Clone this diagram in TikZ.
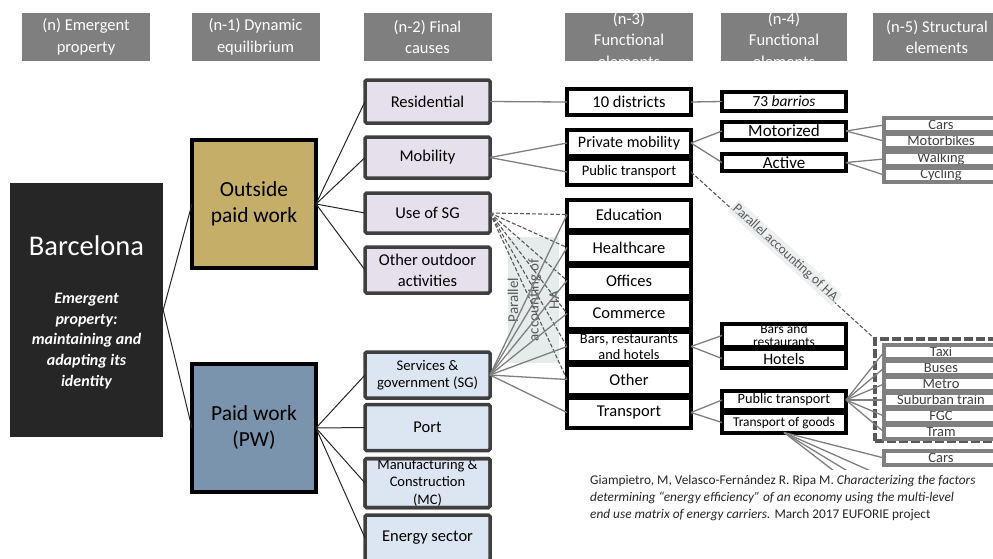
\documentclass[tikz,border=0pt]{standalone}
\usepackage{fontspec}
\setmainfont{Carlito}
\definecolor{hdrgray}{HTML}{7F7F7F}
\definecolor{barcblack}{HTML}{262626}
\definecolor{opwgold}{HTML}{C4AE68}
\definecolor{pwblue}{HTML}{7A94AE}
\definecolor{lavender}{HTML}{E6E0EC}
\definecolor{paleblue}{HTML}{DCE6F2}
\definecolor{boxedge}{HTML}{3F3F3F}
\definecolor{linkgray}{HTML}{7F7F7F}
\definecolor{hagray}{HTML}{595959}
\definecolor{notegray}{HTML}{E6EBEC}
\definecolor{vgray}{HTML}{808080}
\definecolor{vtext}{HTML}{404040}

\begin{document}
\begin{tikzpicture}[x=1pt,y=-1pt,
    hdr/.style={fill=hdrgray, minimum width=128, minimum height=48, inner sep=0pt},
    hdrtext/.style={text=white, align=center, font=\fontsize{16.5}{21.5}\selectfont},
    fcause/.style={draw=boxedge, line width=3.5pt, rounded corners=1.5pt, minimum width=125,
        inner sep=1pt, outer sep=0pt, align=center},
    upper/.style={fcause, fill=lavender, font=\fontsize{16.5}{21}\selectfont},
    lower/.style={fcause, fill=paleblue, minimum height=46},
    fel/.style={draw=black, fill=white, line width=4pt, minimum width=124, inner sep=0pt,
        outer sep=0pt, align=center},
    vbox/.style={draw=vgray, fill=white, line width=4pt, minimum width=114, minimum height=14,
        inner sep=0pt, outer sep=0pt, text=vtext, font=\fontsize{14.5}{15}\selectfont},
    tree/.style={draw=barcblack, line width=1pt},
    link/.style={draw=linkgray, line width=1.3pt},
    ha/.style={draw=hagray, line width=1.1pt, dash pattern=on 4pt off 2pt},
    hnote/.style={fill=notegray, text=hagray, font=\fontsize{13.5}{15}\selectfont, inner sep=2pt}]
    \useasboundingbox (0,0) rectangle (993,558);

    \foreach \n/\xc/\lab in {h0/86/{(n) Emergent\\property}, h1/255.5/{(n-1) Dynamic\\equilibrium},
        h2/427.5/{(n-2) Final\\causes}, h5/937/{(n-5) Structural\\elements}}
        \node[hdr, hdrtext] (\n) at (\xc,37) {\lab};
    \node[hdr] (h3) at (629,37) {};
    \node[hdr, minimum width=126] (h4) at (784,37) {};
    \begin{scope}
        \clip (h3.south west) rectangle (h3.north east) (h4.south west) rectangle (h4.north east);
        \node[hdrtext] (h3t) at (629,40) {(n-3)\\Functional\\elements};
        \node[hdrtext] (h4t) at (784,40) {(n-4)\\Functional\\elements};
    \end{scope}

    \node[fill=barcblack, minimum width=153, minimum height=254] (barc) at (86.5,310) {};
    \node[text=white, font=\fontsize{28.5}{30}\selectfont] (barcname) at (86.5,246) {Barcelona};
    \node[text=white, align=center, font=\bfseries\itshape\fontsize{16}{20.75}\selectfont]
        (barcnote) at (86.5,341) {Emergent\\property:\\maintaining and\\adapting its\\identity};

    \node[draw=black, line width=4pt, fill=opwgold, minimum width=124, minimum height=128,
        align=center, outer sep=0pt, font=\fontsize{21.5}{26}\selectfont] (opw) at (254,204) {Outside\\paid work};
    \node[draw=black, line width=4pt, fill=pwblue, minimum width=124, minimum height=128,
        align=center, outer sep=0pt, font=\fontsize{21.5}{26}\selectfont] (pw) at (254,428) {Paid work\\(PW)};

    \foreach \n/\yc/\h/\lab in {res/101.5/43/Residential, mob/157.5/41/Mobility, usg/213/40/Use of SG,
        ooa/270/46/{Other outdoor\\activities}}
        \node[upper, minimum height=\h] (\n) at (427.5,\yc) {\lab};
    \node[lower, font=\fontsize{14.7}{17}\selectfont] (sg) at (427.5,375) {Services \&\\government (SG)};
    \node[lower, font=\fontsize{16.5}{18}\selectfont] (port) at (427.5,427.5) {Port};
    \node[lower, font=\fontsize{14.5}{17.5}\selectfont] (mc) at (427.5,483) {Manufacturing \&\\Construction\\(MC)};
    \draw[draw=boxedge, line width=3.5pt, rounded corners=1.5pt] (mc.north west) rectangle (mc.south east);
    \node[lower, font=\fontsize{16.5}{18}\selectfont] (ener) at (427.5,538) {Energy sector};

    \node[fill=notegray, text=hagray, rotate=90, align=center, minimum width=126,
        minimum height=49, inner sep=0pt, font=\fontsize{15}{20.5}\selectfont]
        (havert) at (533.5,300) {Parallel\\accounting of\\HA};

    \node[fel, minimum height=26, font=\fontsize{16.5}{18}\selectfont] (dist) at (629,102) {10 districts};
    \node[fel, minimum height=26, font=\fontsize{16}{17}\selectfont] (priv) at (629,143) {Private mobility};
    \node[fel, minimum height=26, font=\fontsize{14.6}{16}\selectfont] (pubt) at (629,172) {Public transport};
    \foreach \n/\fs/\lab [count=\i] in {edu/16.5/Education, hea/16.5/Healthcare, off/16.5/Offices,
        com/16.5/Commerce, bar/14.4/{Bars, restaurants\\and hotels}, oth/16.5/Other, tra/16.5/Transport}
        \node[fel, minimum height=30, font=\fontsize{\fs}{16}\selectfont] (\n) at (629,181.5+33*\i) {\lab};
    \draw[line width=4pt] (bar.north west) rectangle (bar.south east);

    \node[fel, minimum height=19, font=\fontsize{15.4}{16}\selectfont] (barr) at (784,101.5) {73 \textit{barrios}};
    \node[fel, minimum height=18, font=\fontsize{17}{17}\selectfont] (motor) at (784,131) {Motorized};
    \node[fel, minimum height=17, font=\fontsize{17}{17}\selectfont] (act) at (784,162.5) {Active};
    \node[fel, minimum height=20, font=\fontsize{13.5}{13.5}\selectfont] (brs) at (784,335.5) {Bars and\\restaurants};
    \draw[line width=4pt] (brs.north west) rectangle (brs.south east);
    \node[fel, minimum height=19, font=\fontsize{16}{17}\selectfont] (hot) at (784,358.5) {Hotels};
    \node[fel, minimum height=19, font=\fontsize{14.3}{16}\selectfont] (ptn) at (784,400) {Public transport};
    \node[fel, minimum height=20, font=\fontsize{13.4}{14}\selectfont] (tog) at (784,422.5) {Transport of goods};

    \node[draw=hagray, line width=4pt, dash pattern=on 9pt off 3pt, minimum width=130, minimum height=102,
        outer sep=0pt] (ptgroup) at (940,390) {};
    \foreach \n/\yc/\lab in {cars/125/Cars, mbk/141/Motorbikes, walk/159/Walking, cyc/175/Cycling,
        taxi/352/Taxi, bus/368/Buses, metro/384/Metro, sub/400/Suburban train, fgc/416/FGC,
        tram/432/Tram, gcars/458/Cars} {
        \node[vbox] (\n) at (941,\yc) {\lab};
        \draw[draw=vgray, line width=4pt] (\n.north west) rectangle (\n.south east);
    }
    \coordinate (gd2) at (882,476);
    \coordinate (gd3) at (882,492);
    \coordinate (gd4) at (882,508);

    \draw[tree] (barc.east) -- (opw.west);
    \draw[tree] (barc.east) -- (pw.west);
    \foreach \n in {res,mob,usg,ooa} \draw[tree] (opw.east) -- (\n.west);
    \foreach \n in {sg,port,mc,ener} \draw[tree] (pw.east) -- (\n.west);
    \draw[link] (res.east) -- (dist.west);
    \draw[link] (dist.east) -- (barr.west);
    \foreach \n in {priv,pubt} \draw[link] (mob.east) -- (\n.west);
    \foreach \n in {motor,act} \draw[link] (priv.east) -- (\n.west);
    \foreach \n in {cars,mbk} \draw[link] (motor.east) -- (\n.west);
    \foreach \n in {walk,cyc} \draw[link] (act.east) -- (\n.west);
    \foreach \n in {edu,hea,off,com,bar,oth} \draw[ha] (usg.east) -- (\n.west);
    \foreach \n in {edu,hea,off,com,bar,oth,tra} \draw[link] (sg.east) -- (\n.west);
    \foreach \n in {brs,hot} \draw[link] (bar.east) -- (\n.west);
    \foreach \n in {ptn,tog} \draw[link] (tra.east) -- (\n.west);
    \foreach \n in {taxi,bus,metro,sub,fgc,tram} \draw[link] (ptn.east) -- (\n.west);
    \foreach \n in {gcars.west,gd2,gd3,gd4} \draw[link] (tog.south) -- (\n);
    \draw[ha] (pubt.east) -- node[midway, sloped, above=-5pt, hnote, fill opacity=0.75, text opacity=1]
        (hadiag) {Parallel accounting of HA} (ptgroup.north west);

    \node[anchor=west, fill=white, inner xsep=10pt, inner ysep=5pt, align=left, text=barcblack,
        font=\fontsize{13.3}{17}\selectfont] (cite) at (580,498)
        {Giampietro, M, Velasco-Fernández R. Ripa M. \textit{Characterizing the factors}\\
        \textit{determining “energy efficiency” of an economy using the multi-level}\\
        \textit{end use matrix of energy carriers.} March 2017 EUFORIE project};
\end{tikzpicture}
\end{document}
